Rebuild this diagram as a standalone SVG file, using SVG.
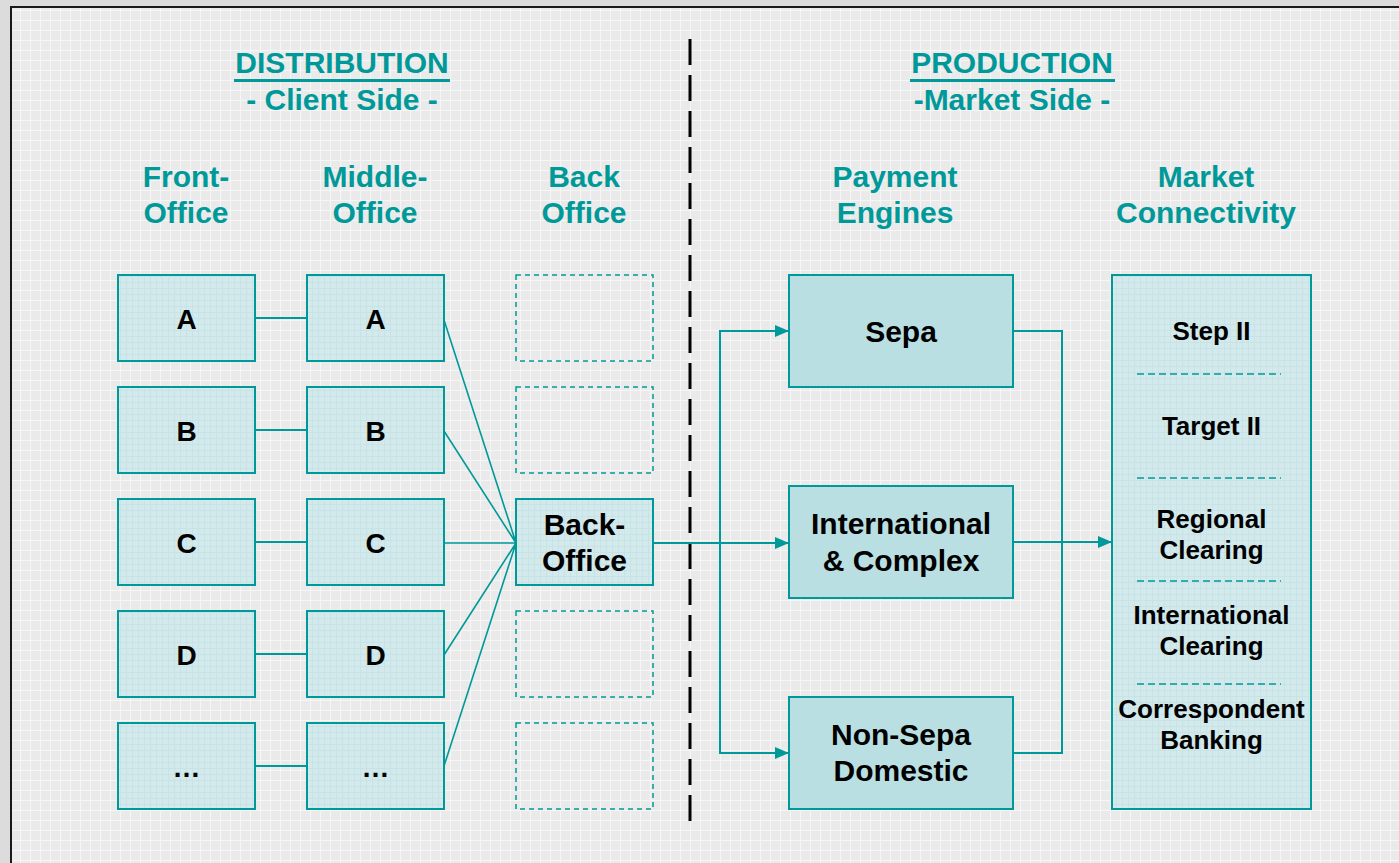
<svg xmlns="http://www.w3.org/2000/svg" width="1399" height="863" viewBox="0 0 1399 863">
  <defs>
    <pattern id="paper" width="10" height="10" patternUnits="userSpaceOnUse">
      <rect width="10" height="10" fill="#eaeaea"/>
      <path d="M0 0.5H10M0.5 0V10" stroke="#f6f6f6" stroke-width="1"/>
    </pattern>
    <pattern id="tint" width="6" height="6" patternUnits="userSpaceOnUse">
      <rect width="6" height="6" fill="#d3e9eb"/>
      <path d="M0 0.5H6M0.5 0V6" stroke="#c6e3e6" stroke-width="1"/>
    </pattern>
    <marker id="arrow" viewBox="0 0 14 12" refX="14" refY="6" markerWidth="14" markerHeight="12" markerUnits="userSpaceOnUse" orient="auto">
      <path d="M0 0L14 6L0 12Z" fill="#009999"/>
    </marker>
  </defs>
  <style>
    text { font-family: "Liberation Sans", Arial, sans-serif; font-weight: bold; text-anchor: middle; }
    .head { fill: #009999; font-size: 30px; }
    .lbl { fill: #000; font-size: 30px; }
    .abc { fill: #000; font-size: 28px; }
    .mkt { fill: #000; font-size: 26px; }
    .box { fill: url(#tint); stroke: #009999; stroke-width: 2; }
    .eng { fill: #b9dfe2; stroke: #009999; stroke-width: 2; }
    .ghost { fill: none; stroke: #009999; stroke-width: 1.5; stroke-dasharray: 5 4; }
    .wire { fill: none; stroke: #009999; stroke-width: 2; }
    .thin { fill: none; stroke: #009999; stroke-width: 1.6; }
    .sep { stroke: #009999; stroke-width: 1.5; stroke-dasharray: 7 4; }
  </style>

  <!-- page and frame -->
  <rect width="1399" height="863" fill="#dcdcdc"/>
  <rect x="11" y="7" width="1388" height="856" fill="url(#paper)"/>
  <path d="M11 863V7H1399" fill="none" stroke="#1a1a1a" stroke-width="2"/>

  <!-- section titles -->
  <g id="titles">
    <text class="head" x="342" y="73">DISTRIBUTION</text>
    <line x1="234" y1="80.5" x2="450" y2="80.5" stroke="#009999" stroke-width="3"/>
    <text class="head" x="342" y="110">- Client Side -</text>
    <text class="head" x="1012" y="73">PRODUCTION</text>
    <line x1="910" y1="80.5" x2="1115" y2="80.5" stroke="#009999" stroke-width="3"/>
    <text class="head" x="1012" y="110">-Market Side -</text>
  </g>

  <!-- column headers -->
  <g id="columns">
    <text class="head" x="186" y="187">Front-</text>
    <text class="head" x="186" y="223">Office</text>
    <text class="head" x="375" y="187">Middle-</text>
    <text class="head" x="375" y="223">Office</text>
    <text class="head" x="584" y="187">Back</text>
    <text class="head" x="584" y="223">Office</text>
    <text class="head" x="895" y="187">Payment</text>
    <text class="head" x="895" y="223">Engines</text>
    <text class="head" x="1206" y="187">Market</text>
    <text class="head" x="1206" y="223">Connectivity</text>
  </g>

  <!-- divider between client side and market side -->
  <line id="divider" x1="690" y1="39" x2="690" y2="826" stroke="#000" stroke-width="3" stroke-dasharray="26 10"/>

  <!-- connectors -->
  <g id="connectors">
    <path class="wire" d="M255 318H307M255 430H307M255 542H307M255 654H307M255 766H307"/>
    <path class="thin" d="M444 320L516 543M444 431L516 543M444 543H516M444 655L516 543M444 766L516 543"/>
    <path class="wire" d="M653 543H789" marker-end="url(#arrow)"/>
    <path class="wire" d="M720 543V331H789" marker-end="url(#arrow)"/>
    <path class="wire" d="M720 543V753H789" marker-end="url(#arrow)"/>
    <path class="wire" d="M1013 331H1062V753H1013"/>
    <path class="wire" d="M1013 542H1112" marker-end="url(#arrow)"/>
  </g>

  <!-- front office -->
  <g id="front-a"><rect class="box" x="118" y="275" width="137" height="86"/><text class="abc" x="186.5" y="329">A</text></g>
  <g id="front-b"><rect class="box" x="118" y="387" width="137" height="86"/><text class="abc" x="186.5" y="441">B</text></g>
  <g id="front-c"><rect class="box" x="118" y="499" width="137" height="86"/><text class="abc" x="186.5" y="553">C</text></g>
  <g id="front-d"><rect class="box" x="118" y="611" width="137" height="86"/><text class="abc" x="186.5" y="665">D</text></g>
  <g id="front-e"><rect class="box" x="118" y="723" width="137" height="86"/><text class="abc" x="186.5" y="777">…</text></g>

  <!-- middle office -->
  <g id="middle-a"><rect class="box" x="307" y="275" width="137" height="86"/><text class="abc" x="375.5" y="329">A</text></g>
  <g id="middle-b"><rect class="box" x="307" y="387" width="137" height="86"/><text class="abc" x="375.5" y="441">B</text></g>
  <g id="middle-c"><rect class="box" x="307" y="499" width="137" height="86"/><text class="abc" x="375.5" y="553">C</text></g>
  <g id="middle-d"><rect class="box" x="307" y="611" width="137" height="86"/><text class="abc" x="375.5" y="665">D</text></g>
  <g id="middle-e"><rect class="box" x="307" y="723" width="137" height="86"/><text class="abc" x="375.5" y="777">…</text></g>

  <!-- back office -->
  <g id="back-1"><rect class="ghost" x="516" y="275" width="137" height="86"/></g>
  <g id="back-2"><rect class="ghost" x="516" y="387" width="137" height="86"/></g>
  <g id="back-office"><rect class="box" x="516" y="499" width="137" height="86"/><text class="lbl" x="584.5" y="535">Back-</text><text class="lbl" x="584.5" y="571">Office</text></g>
  <g id="back-4"><rect class="ghost" x="516" y="611" width="137" height="86"/></g>
  <g id="back-5"><rect class="ghost" x="516" y="723" width="137" height="86"/></g>

  <!-- payment engines -->
  <g id="sepa"><rect class="eng" x="789" y="275" width="224" height="112"/><text class="lbl" x="901" y="342">Sepa</text></g>
  <g id="international"><rect class="eng" x="789" y="486" width="224" height="112"/><text class="lbl" x="901" y="534">International</text><text class="lbl" x="901" y="571">&amp; Complex</text></g>
  <g id="non-sepa"><rect class="eng" x="789" y="697" width="224" height="112"/><text class="lbl" x="901" y="745">Non-Sepa</text><text class="lbl" x="901" y="781">Domestic</text></g>

  <!-- market connectivity -->
  <g id="market">
    <rect class="box" x="1112" y="275" width="199" height="534"/>
    <line class="sep" x1="1137" y1="374" x2="1281" y2="374"/>
    <line class="sep" x1="1137" y1="478" x2="1281" y2="478"/>
    <line class="sep" x1="1137" y1="581" x2="1281" y2="581"/>
    <line class="sep" x1="1137" y1="684" x2="1281" y2="684"/>
    <text class="mkt" x="1211.5" y="340">Step II</text>
    <text class="mkt" x="1211.5" y="435">Target II</text>
    <text class="mkt" x="1211.5" y="528">Regional</text>
    <text class="mkt" x="1211.5" y="559">Clearing</text>
    <text class="mkt" x="1211.5" y="624">International</text>
    <text class="mkt" x="1211.5" y="655">Clearing</text>
    <text class="mkt" x="1211.5" y="718">Correspondent</text>
    <text class="mkt" x="1211.5" y="749">Banking</text>
  </g>
</svg>
